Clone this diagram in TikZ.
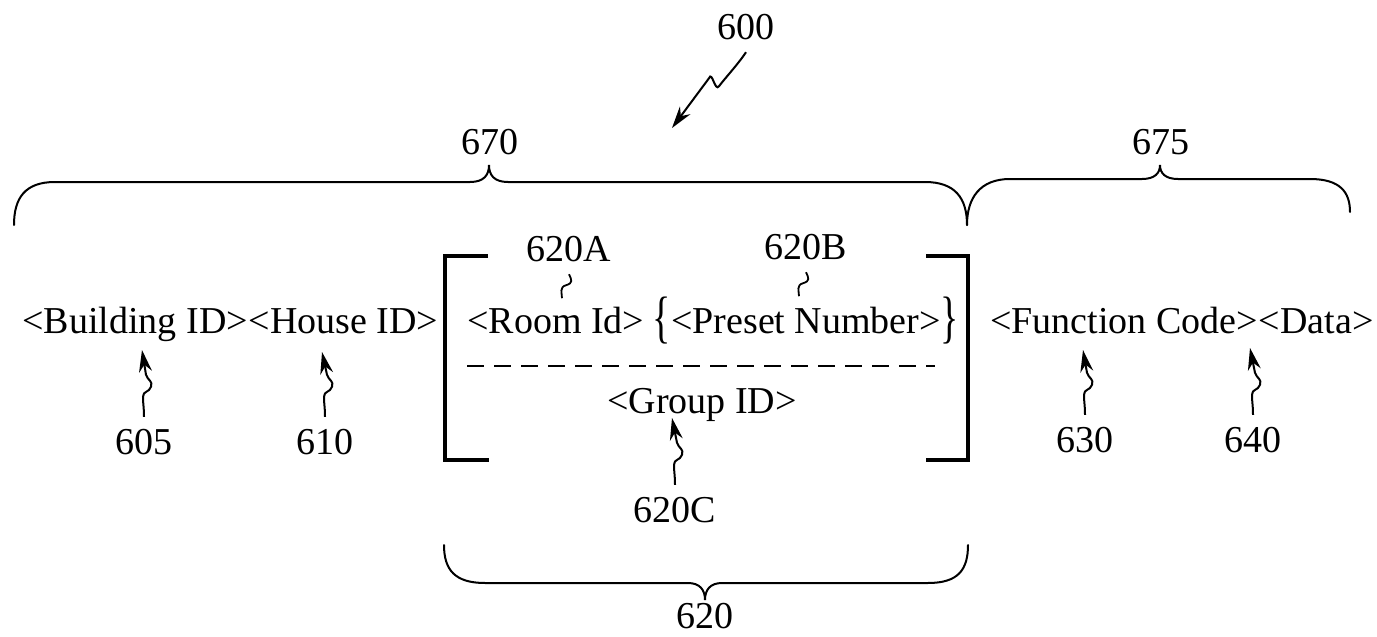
\documentclass[tikz,border=0pt]{standalone}
\usepackage{fontspec}
\usepackage{graphicx}
\setmainfont{Liberation Serif}
\usetikzlibrary{arrows.meta,positioning}

\tikzset{
  field/.style={inner sep=0pt, font=\fontsize{19}{22}\selectfont},
  refno/.style={inner sep=6pt, font=\fontsize{19}{22}\selectfont},
  lead/.style={line width=1pt, -{Stealth[length=11pt,width=6.5pt]}},
  tilde/.style={line width=0.9pt},
  brace/.style={line width=1pt, line cap=round},
  bracket/.style={line width=1.8pt}
}

% tall curly braces round the preset number
\newcommand{\tallL}{\raisebox{-0.08em}{\scalebox{1}[1.5]{\{}}}
\newcommand{\tallR}{\raisebox{-0.08em}{\scalebox{1}[1.5]{\}}}}

% leader line with a small wiggle, from a number up to its field
\newcommand{\squiggle}[2]{%
  \draw[lead] (#1) .. controls +(0,-10) and +(0,8) .. ++(-1,-20)
    .. controls +(0,-6) and +(-2,6) .. ++(8,-10)
    .. controls +(2,-6) and +(2,6) .. ++(-5,-12) -- (#2);}

\begin{document}
\begin{tikzpicture}[x=0.5pt, y=-0.5pt]
\useasboundingbox (0,0) rectangle (1377,637);

% message fields
\node[field, anchor=base west] (BuildingID) at (22,333) {<Building ID>};
\node[field, anchor=base west] (HouseID) at (BuildingID.base east) {<House ID>};
\node[field, anchor=base west] (RoomID) at (467,333) {<Room Id>};
\node[field, anchor=base] (Preset) at (806,333) {\tallL<Preset Number>\tallR};
\node[field, anchor=base] (GroupID) at (702,413) {<Group ID>};
\node[field, anchor=base west] (FuncCode) at (990,333) {<Function Code>};
\node[field, anchor=base west] (Data) at (FuncCode.base east) {<Data>};

% square brackets and separator
\draw[bracket] (488,256) -- (445,256) -- (445,460) -- (489,460);
\draw[bracket] (926,256) -- (968,256) -- (968,460) -- (926,460);
\draw[line width=1pt, dash pattern=on 8.5pt off 5pt] (467,366) -- (935,366);

% braces
\draw[brace] (14,225) .. controls (14,198) and (25,182) .. (55,182) -- (470,182)
  .. controls (484,182) and (489,175) .. (489,165)
  .. controls (489,175) and (494,182) .. (508,182) -- (925,182)
  .. controls (955,182) and (967,198) .. (967,225);
\draw[brace] (967,225) .. controls (967,198) and (980,179) .. (1010,179) -- (1142,179)
  .. controls (1155,179) and (1160,173) .. (1160,165)
  .. controls (1160,173) and (1165,179) .. (1178,179) -- (1310,179)
  .. controls (1340,179) and (1350,192) .. (1350,212);
\draw[brace] (444,545) .. controls (444,570) and (455,583) .. (485,583) -- (688,583)
  .. controls (700,583) and (705,590) .. (705,600)
  .. controls (705,590) and (710,583) .. (722,583) -- (928,583)
  .. controls (958,583) and (968,570) .. (968,545);

% reference numbers
\node[refno] (N600) at (746,27) {600};
\node[refno] (N670) at (490,142) {670};
\node[refno] (N675) at (1161,142) {675};
\node[refno] (N620A) at (569,249) {620A};
\node[refno] (N620B) at (806,247) {620B};
\node[refno] (N605) at (144,442) {605};
\node[refno] (N610) at (325,442) {610};
\node[refno] (N620C) at (675,510) {620C};
\node[refno] (N630) at (1085,440) {630};
\node[refno] (N640) at (1253,440) {640};
\node[refno] (N620) at (705,616) {620};

\coordinate (T600) at (672,128);
\coordinate (T605) at (142,350);
\coordinate (T610) at (322,352);
\coordinate (T620C) at (672,418);
\coordinate (T630) at (1083,350);
\coordinate (T640) at (1250,348);

\draw[lead] (N600.south) .. controls +(-8,12) and +(6,-8) .. ++(-27,34)
  .. controls +(-4,6) and +(3,-8) .. ++(-10,-8) -- (T600);

\squiggle{N605.north}{T605}
\squiggle{N610.north}{T610}
\squiggle{N620C.north}{T620C}
\squiggle{N630.north}{T630}
\squiggle{N640.north}{T640}

\draw[tilde] (N620A.south) .. controls +(3,6) and +(7,-2) .. ++(-3,11)
  .. controls +(-7,2) and +(0,-5) .. ++(-4,13);
\draw[tilde] (N620B.south) .. controls +(3,6) and +(7,-2) .. ++(-3,11)
  .. controls +(-7,2) and +(0,-5) .. ++(-4,13);

\end{tikzpicture}
\end{document}
